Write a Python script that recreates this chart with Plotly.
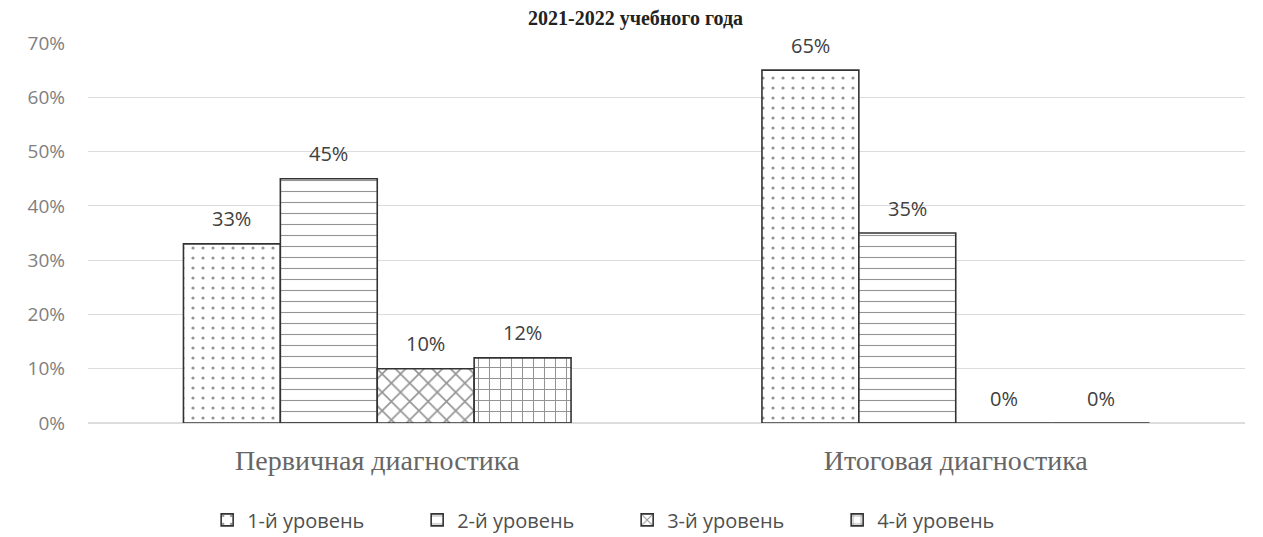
import plotly.graph_objects as go

categories = ["Первичная диагностика", "Итоговая диагностика"]
series_names = ["1-й уровень", "2-й уровень", "3-й уровень", "4-й уровень"]
level1 = [0.33, 0.65]
level2 = [0.45, 0.35]
level3 = [0.10, 0.00]
level4 = [0.12, 0.00]
y_ticks = [0, 0.1, 0.2, 0.3, 0.4, 0.5, 0.6, 0.7]
title_text = "2021-2022 учебного года"

series_values = [level1, level2, level3, level4]
patterns = [".", "-", "x", "+"]
pattern_sizes = [10, 11, 13, 11]
pattern_solidity = [0.08, 0.1, 0.24, 0.18]

BARGAP = 0.33
fig = go.Figure()
for name, vals, pat, ps, so in zip(series_names, series_values, patterns, pattern_sizes, pattern_solidity):
    fig.add_trace(go.Bar(
        x=categories, y=vals, name=name,
        marker=dict(
            color="white",
            line=dict(color="#333333", width=1.6),
            pattern=dict(shape=pat, fgcolor="#2a2a2a", bgcolor="white",
                         size=ps, solidity=so),
        ),
    ))

# data labels placed above each bar (positions derived from the grouped-bar layout)
n = len(series_values)
bw = (1 - BARGAP) / n
for i, vals in enumerate(series_values):
    off = (i - (n - 1) / 2) * bw
    for ci, v in enumerate(vals):
        fig.add_annotation(x=ci + off, y=v, xref="x", yref="y",
                           text=f"{round(v*100)}%", showarrow=False,
                           yanchor="middle", yshift=25,
                           font=dict(family="Open Sans, Liberation Sans", size=20, color="#404040"))

fig.update_layout(
    width=1255, height=529,
    paper_bgcolor="white", plot_bgcolor="white",
    barmode="group", bargap=BARGAP, bargroupgap=0,
    margin=dict(l=80, r=18, t=35, b=114, autoexpand=False),
    title=dict(text="<b>" + title_text + "</b>", x=0.5, xanchor="center", y=0.995, yanchor="top",
               yref="container",
               font=dict(family="Liberation Serif", size=20, color="#222222")),
    showlegend=True,
    legend=dict(orientation="h", x=0.466, xanchor="center", y=-0.255, yanchor="middle",
                font=dict(family="Open Sans, Liberation Sans", size=20, color="#505050"),
                itemwidth=30, tracegroupgap=0, entrywidth=165),
    xaxis=dict(showline=False, ticks="", automargin=False, ticklabelstandoff=18,
               tickfont=dict(family="Liberation Serif", size=28, color="#666666")),
    yaxis=dict(range=[0, 0.7], tickvals=y_ticks, tickformat=".0%", automargin=False,
               showgrid=True, gridcolor="#dcdcdc", gridwidth=1,
               zeroline=True, zerolinecolor="#dcdcdc",
               ticks="", ticklabelstandoff=22,
               tickfont=dict(family="Open Sans, Liberation Sans", size=19, color="#808080")),
)

fig.write_html("out.html")
